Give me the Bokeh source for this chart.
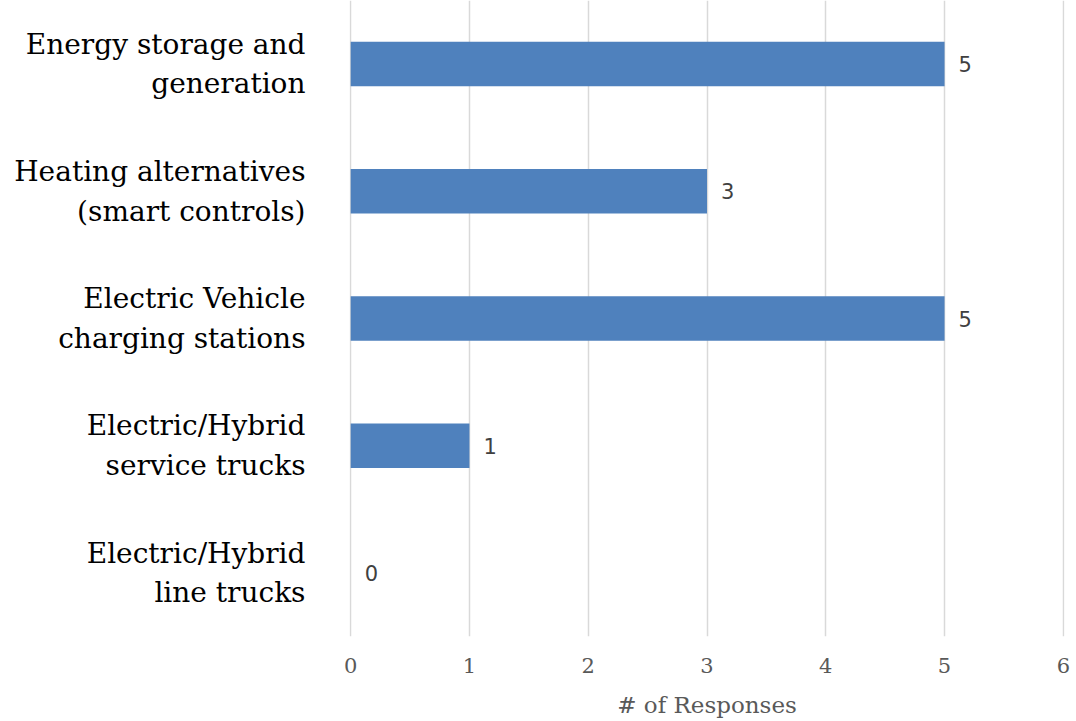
from bokeh.plotting import figure
from bokeh.models import ColumnDataSource, LabelSet, FactorRange
from bokeh.core.properties import value
from bokeh.embed import file_html
from bokeh.resources import INLINE

categories = [
    "Energy storage and\ngeneration",
    "Heating alternatives\n(smart controls)",
    "Electric Vehicle\ncharging stations",
    "Electric/Hybrid\nservice trucks",
    "Electric/Hybrid\nline trucks",
]
responses = [5, 3, 5, 1, 0]
x_ticks = [0, 1, 2, 3, 4, 5, 6]

source = ColumnDataSource(data=dict(cat=categories, val=responses,
                                    lbl=[str(v) for v in responses]))

p = figure(width=1076, height=721, output_backend="svg", toolbar_location=None,
           y_range=FactorRange(factors=list(reversed(categories)), range_padding=0),
           x_range=(-0.01, 6.01),
           min_border_left=349, min_border_right=12, min_border_top=0, min_border_bottom=85)

p.hbar(y="cat", right="val", left=0, height=0.35, source=source,
       fill_color="#4F81BD", line_color=None)

labels = LabelSet(x="val", y="cat", text="lbl", source=source, x_offset=14,
                  text_align="left", text_baseline="middle",
                  text_font=value("DejaVu Sans"), text_font_size=value("21px"),
                  text_color="#404040")
p.add_layout(labels)

p.outline_line_color = None
p.ygrid.grid_line_color = None
p.xgrid.grid_line_color = "#d9d9d9"
p.xgrid.grid_line_width = 1.5
p.xaxis.ticker = x_ticks
p.xaxis.axis_line_color = None
p.xaxis.major_tick_line_color = None
p.xaxis.minor_tick_line_color = None
p.xaxis.major_label_text_font = "DejaVu Serif"
p.xaxis.major_label_text_font_size = "21px"
p.xaxis.major_label_text_color = "#595959"
p.xaxis.major_label_standoff = 15
p.xaxis.axis_label = "# of Responses"
p.xaxis.axis_label_text_font = "DejaVu Serif"
p.xaxis.axis_label_text_font_style = "normal"
p.xaxis.axis_label_text_font_size = "23px"
p.xaxis.axis_label_text_color = "#595959"
p.xaxis.axis_label_standoff = 16

p.yaxis.axis_line_color = None
p.yaxis.major_tick_line_color = None
p.yaxis.minor_tick_line_color = None
p.yaxis.major_label_text_font = "DejaVu Serif"
p.yaxis.major_label_text_font_size = "28px"
p.yaxis.major_label_text_color = "#000000"
p.yaxis.major_label_standoff = 38

html = file_html(p, INLINE)
html = html.replace("<body>", '<body style="margin:0;overflow:hidden">', 1)
open("out.html", "w").write(html)
